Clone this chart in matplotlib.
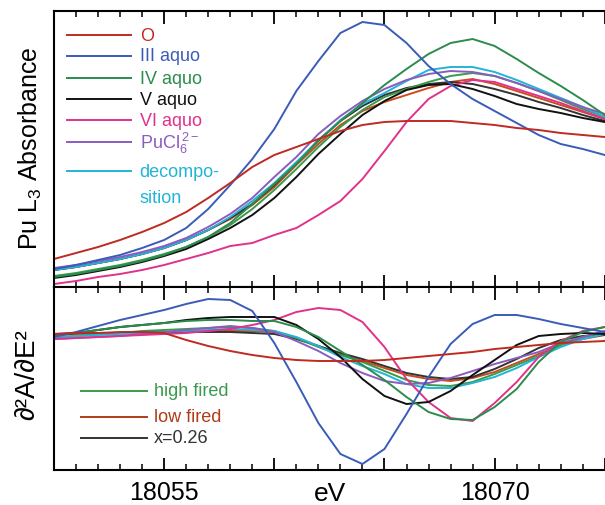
import matplotlib
matplotlib.use('Agg')
import matplotlib.pyplot as plt
from matplotlib.ticker import MultipleLocator

plt.rcParams['font.family'] = ['Liberation Sans', 'DejaVu Sans']
plt.rcParams['mathtext.default'] = 'regular'

# energies (eV), one reading per eV
energy = list(range(18050, 18076))

# top panel: Pu L3 absorbance (arb. units)
abs_O = [0.28, 0.34, 0.40, 0.47, 0.55, 0.64, 0.75, 0.89, 1.04, 1.20, 1.32, 1.40, 1.48,
         1.56, 1.62, 1.65, 1.66, 1.66, 1.66, 1.64, 1.62, 1.59, 1.57, 1.54, 1.52, 1.50]
abs_III = [0.18, 0.22, 0.27, 0.32, 0.39, 0.47, 0.59, 0.78, 1.02, 1.28, 1.58, 1.96, 2.26,
           2.54, 2.65, 2.62, 2.44, 2.21, 2.03, 1.88, 1.76, 1.64, 1.52, 1.43, 1.38, 1.32]
abs_IV = [0.10, 0.13, 0.17, 0.21, 0.26, 0.32, 0.40, 0.50, 0.64, 0.83, 1.03, 1.23, 1.46,
          1.66, 1.84, 2.02, 2.18, 2.33, 2.44, 2.48, 2.41, 2.28, 2.14, 2.01, 1.87, 1.72]
abs_V = [0.09, 0.12, 0.16, 0.20, 0.25, 0.31, 0.38, 0.48, 0.59, 0.72, 0.89, 1.10, 1.33,
         1.53, 1.72, 1.86, 1.97, 2.02, 2.03, 1.98, 1.91, 1.83, 1.78, 1.74, 1.69, 1.65]
abs_VI = [0.03, 0.06, 0.10, 0.13, 0.17, 0.22, 0.28, 0.34, 0.41, 0.44, 0.52, 0.59, 0.72,
          0.86, 1.08, 1.36, 1.65, 1.88, 2.01, 2.07, 2.05, 1.98, 1.91, 1.84, 1.76, 1.68]
abs_PuCl6 = [0.19, 0.22, 0.26, 0.30, 0.35, 0.41, 0.49, 0.60, 0.73, 0.89, 1.10, 1.30, 1.53,
             1.71, 1.86, 1.98, 2.07, 2.13, 2.16, 2.15, 2.11, 2.04, 1.96, 1.88, 1.80, 1.73]
abs_decomp = [0.17, 0.20, 0.24, 0.28, 0.33, 0.39, 0.47, 0.57, 0.70, 0.86, 1.04, 1.25, 1.46,
              1.67, 1.83, 1.94, 2.06, 2.17, 2.20, 2.20, 2.15, 2.07, 1.98, 1.89, 1.80, 1.70]
abs_high = [0.11, 0.14, 0.18, 0.22, 0.27, 0.33, 0.40, 0.50, 0.62, 0.78, 0.97, 1.18, 1.40,
            1.60, 1.77, 1.90, 1.98, 2.05, 2.11, 2.14, 2.11, 2.04, 1.96, 1.87, 1.78, 1.70]
abs_low = [0.17, 0.20, 0.24, 0.28, 0.33, 0.39, 0.47, 0.57, 0.68, 0.82, 1.00, 1.22, 1.43,
           1.62, 1.76, 1.85, 1.92, 1.99, 2.05, 2.08, 2.03, 1.96, 1.89, 1.82, 1.75, 1.68]
abs_x026 = [0.17, 0.20, 0.24, 0.28, 0.33, 0.39, 0.47, 0.57, 0.69, 0.83, 1.02, 1.24, 1.47,
            1.66, 1.81, 1.92, 1.99, 2.03, 2.05, 2.03, 1.98, 1.92, 1.85, 1.79, 1.72, 1.66]

# bottom panel: second derivative (arb. units)
d2_O = [0.45, 0.46, 0.46, 0.47, 0.47, 0.46, 0.39, 0.33, 0.28, 0.24, 0.21, 0.19, 0.18,
        0.18, 0.18, 0.19, 0.21, 0.23, 0.25, 0.27, 0.30, 0.32, 0.34, 0.36, 0.37, 0.38]
d2_III = [0.42, 0.47, 0.53, 0.59, 0.64, 0.69, 0.75, 0.80, 0.79, 0.68, 0.36, -0.03, -0.44,
          -0.75, -0.85, -0.70, -0.35, 0.02, 0.35, 0.55, 0.64, 0.64, 0.60, 0.55, 0.51, 0.47]
d2_IV = [0.44, 0.46, 0.49, 0.52, 0.54, 0.56, 0.58, 0.59, 0.59, 0.58, 0.58, 0.52, 0.42,
         0.28, 0.14, -0.01, -0.18, -0.33, -0.40, -0.41, -0.28, -0.10, 0.17, 0.37, 0.47, 0.52]
d2_V = [0.44, 0.46, 0.49, 0.52, 0.54, 0.56, 0.59, 0.61, 0.62, 0.62, 0.62, 0.54, 0.40,
        0.22, 0.00, -0.17, -0.25, -0.23, -0.12, 0.04, 0.19, 0.34, 0.43, 0.45, 0.46, 0.45]
d2_VI = [0.40, 0.41, 0.42, 0.43, 0.44, 0.45, 0.46, 0.48, 0.50, 0.54, 0.59, 0.67, 0.71,
         0.69, 0.57, 0.32, 0.00, -0.23, -0.39, -0.42, -0.24, -0.03, 0.22, 0.38, 0.48, 0.52]
d2_PuCl6 = [0.40, 0.41, 0.42, 0.43, 0.45, 0.47, 0.49, 0.51, 0.53, 0.51, 0.47, 0.38, 0.28,
            0.16, 0.06, -0.02, -0.05, -0.04, 0.01, 0.08, 0.15, 0.21, 0.27, 0.36, 0.42, 0.48]
d2_decomp = [0.42, 0.43, 0.44, 0.45, 0.46, 0.47, 0.48, 0.49, 0.50, 0.49, 0.48, 0.42, 0.33,
             0.22, 0.13, 0.05, -0.05, -0.09, -0.09, -0.04, 0.02, 0.11, 0.22, 0.32, 0.40, 0.45]
d2_high = [0.42, 0.43, 0.45, 0.46, 0.48, 0.49, 0.50, 0.51, 0.52, 0.51, 0.48, 0.41, 0.32,
           0.24, 0.17, 0.08, -0.01, -0.06, -0.07, -0.03, 0.05, 0.14, 0.23, 0.34, 0.42, 0.47]
d2_low = [0.44, 0.45, 0.45, 0.46, 0.46, 0.47, 0.47, 0.48, 0.48, 0.48, 0.47, 0.41, 0.33,
          0.25, 0.18, 0.11, 0.04, 0.00, -0.02, 0.01, 0.07, 0.16, 0.25, 0.34, 0.40, 0.44]
d2_x026 = [0.45, 0.46, 0.46, 0.46, 0.47, 0.47, 0.47, 0.47, 0.47, 0.46, 0.45, 0.40, 0.33,
           0.26, 0.20, 0.13, 0.06, 0.02, 0.00, 0.02, 0.10, 0.20, 0.31, 0.39, 0.43, 0.44]

c_O = '#bf2a22'
c_III = '#3a5cb8'
c_IV = '#2b8c4c'
c_V = '#111111'
c_VI = '#e0328a'
c_PuCl6 = '#8b5cc0'
c_decomp = '#22b4d8'
c_high = '#3a9a4c'
c_low = '#cc4a1c'
c_x026 = '#333333'

top_curves = [(abs_low, c_low), (abs_x026, c_x026), (abs_high, c_high), (abs_decomp, c_decomp),
              (abs_PuCl6, c_PuCl6), (abs_VI, c_VI), (abs_V, c_V), (abs_IV, c_IV),
              (abs_III, c_III), (abs_O, c_O)]
bot_curves = [(d2_low, c_low), (d2_x026, c_x026), (d2_high, c_high), (d2_decomp, c_decomp),
              (d2_PuCl6, c_PuCl6), (d2_VI, c_VI), (d2_V, c_V), (d2_IV, c_IV),
              (d2_III, c_III), (d2_O, c_O)]

top_labels = ['O', 'III aquo', 'IV aquo', 'V aquo', 'VI aquo', r'PuCl$_6^{\,2-}$', 'decompo-']
top_colors = [c_O, c_III, c_IV, c_V, c_VI, c_PuCl6, c_decomp]
top_rows = [0.913, 0.837, 0.757, 0.681, 0.605, 0.525, 0.420]

bot_labels = ['high fired', 'low fired', 'x=0.26']
bot_colors = [c_high, '#b03c18', c_x026]
bot_rows = [0.432, 0.290, 0.175]

fig = plt.figure(figsize=(6.05, 5.06), dpi=100)
ax1 = fig.add_axes([54 / 605, 1 - 288 / 506, 553 / 605, 276 / 506])
ax2 = fig.add_axes([54 / 605, 1 - 471 / 506, 553 / 605, 183 / 506])

for y, c in top_curves:
    ax1.plot(energy, y, color=c, lw=1.4)
for y, c in bot_curves:
    ax2.plot(energy, y, color=c, lw=1.4)

ax1.set_ylim(0, 2.76)
ax2.set_ylim(-0.91, 0.92)

for ax in (ax1, ax2):
    ax.set_xlim(18050, 18075.1)
    ax.set_yticks([])
    ax.xaxis.set_major_locator(MultipleLocator(5))
    ax.xaxis.set_minor_locator(MultipleLocator(1))
    ax.tick_params(axis='x', which='both', direction='in', top=True, bottom=True)
    ax.tick_params(axis='x', which='major', length=9, width=1.3, labelsize=18, pad=7)
    ax.tick_params(axis='x', which='minor', length=4.5, width=1.1)
    for s in ax.spines.values():
        s.set_linewidth(1.5)
ax1.tick_params(axis='x', labelbottom=False)
ax2.set_xticks([18050, 18055, 18060, 18065, 18070, 18075])
ax2.set_xticklabels(['', '18055', '', '', '18070', ''])

# legends drawn by hand
for lab, c, yy in zip(top_labels, top_colors, top_rows):
    ax1.plot([0.024, 0.14], [yy, yy], color=c, lw=1.4, transform=ax1.transAxes)
    ax1.text(0.155, yy, lab, color=c, fontsize=13, va='center', transform=ax1.transAxes)
ax1.text(0.155, 0.326, 'sition', color=c_decomp, fontsize=13, va='center', transform=ax1.transAxes)

for lab, c, yy in zip(bot_labels, bot_colors, bot_rows):
    ax2.plot([0.049, 0.169], [yy, yy], color=c, lw=1.4, transform=ax2.transAxes)
    ax2.text(0.181, yy, lab, color=c, fontsize=13, va='center', transform=ax2.transAxes)

fig.text(30 / 605, 1 - 148 / 506, r'Pu L$_3$ Absorbance', fontsize=18, rotation=90,
         ha='center', va='center')
fig.text(27 / 605, 1 - 375 / 506, '∂²A/∂E²', fontsize=20, rotation=90,
         ha='center', va='center')
fig.text(330 / 605, 1 - 494 / 506, 'eV', fontsize=19, ha='center', va='center')

fig.savefig('out.png', dpi=100)
